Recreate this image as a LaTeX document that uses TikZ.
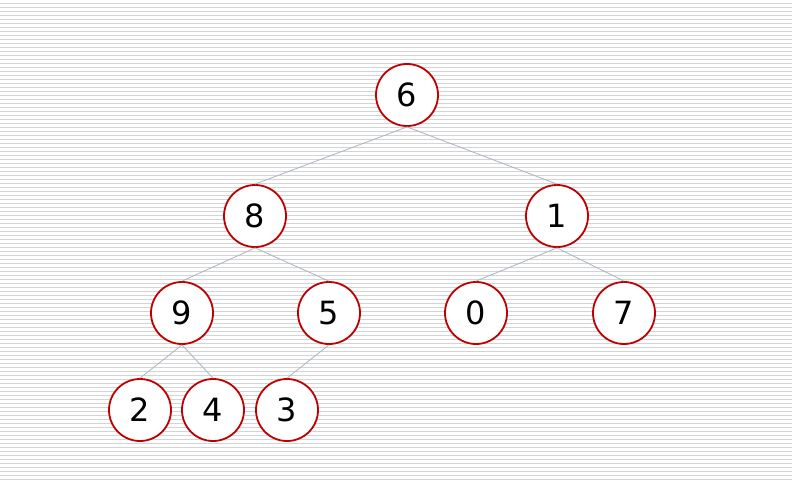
\documentclass[tikz,border=0pt]{standalone}
\usepackage{fontspec}
\setmainfont{DejaVu Sans}
\definecolor{ringred}{HTML}{C00000}
\definecolor{edgegray}{HTML}{A8B4C4}
\definecolor{stripe}{HTML}{D4D4D4}
\begin{document}
\begin{tikzpicture}[x=1pt,y=-1pt,
  tnode/.style={circle,draw=ringred,line width=1.8pt,fill=white,minimum size=62pt,inner sep=0pt,font=\fontsize{32}{36}\selectfont},
  tedge/.style={draw=edgegray,line width=0.8pt}]
\useasboundingbox (0,0) rectangle (792,483);
\fill[white] (0,0) rectangle (792,483);
\foreach \k in {0,...,119} {
  \draw[stripe,line width=1.2pt] (0,{3.5+4*\k}) -- (792,{3.5+4*\k});
}
\node[tnode] (n6) at (407,95) {6};
\node[tnode] (n8) at (255,216) {8};
\node[tnode] (n1) at (557,216) {1};
\node[tnode] (n9) at (182,313) {9};
\node[tnode] (n5) at (329,313) {5};
\node[tnode] (n0) at (476,313) {0};
\node[tnode] (n7) at (624,313) {7};
\node[tnode] (n2) at (140,410) {2};
\node[tnode] (n4) at (213,410) {4};
\node[tnode] (n3) at (287,410) {3};
\draw[tedge] (n6.south) -- (n8.north);
\draw[tedge] (n6.south) -- (n1.north);
\draw[tedge] (n8.south) -- (n9.north);
\draw[tedge] (n8.south) -- (n5.north);
\draw[tedge] (n1.south) -- (n0.north);
\draw[tedge] (n1.south) -- (n7.north);
\draw[tedge] (n9.south) -- (n2.north);
\draw[tedge] (n9.south) -- (n4.north);
\draw[tedge] (n5.south) -- (n3.north);
\end{tikzpicture}
\end{document}
